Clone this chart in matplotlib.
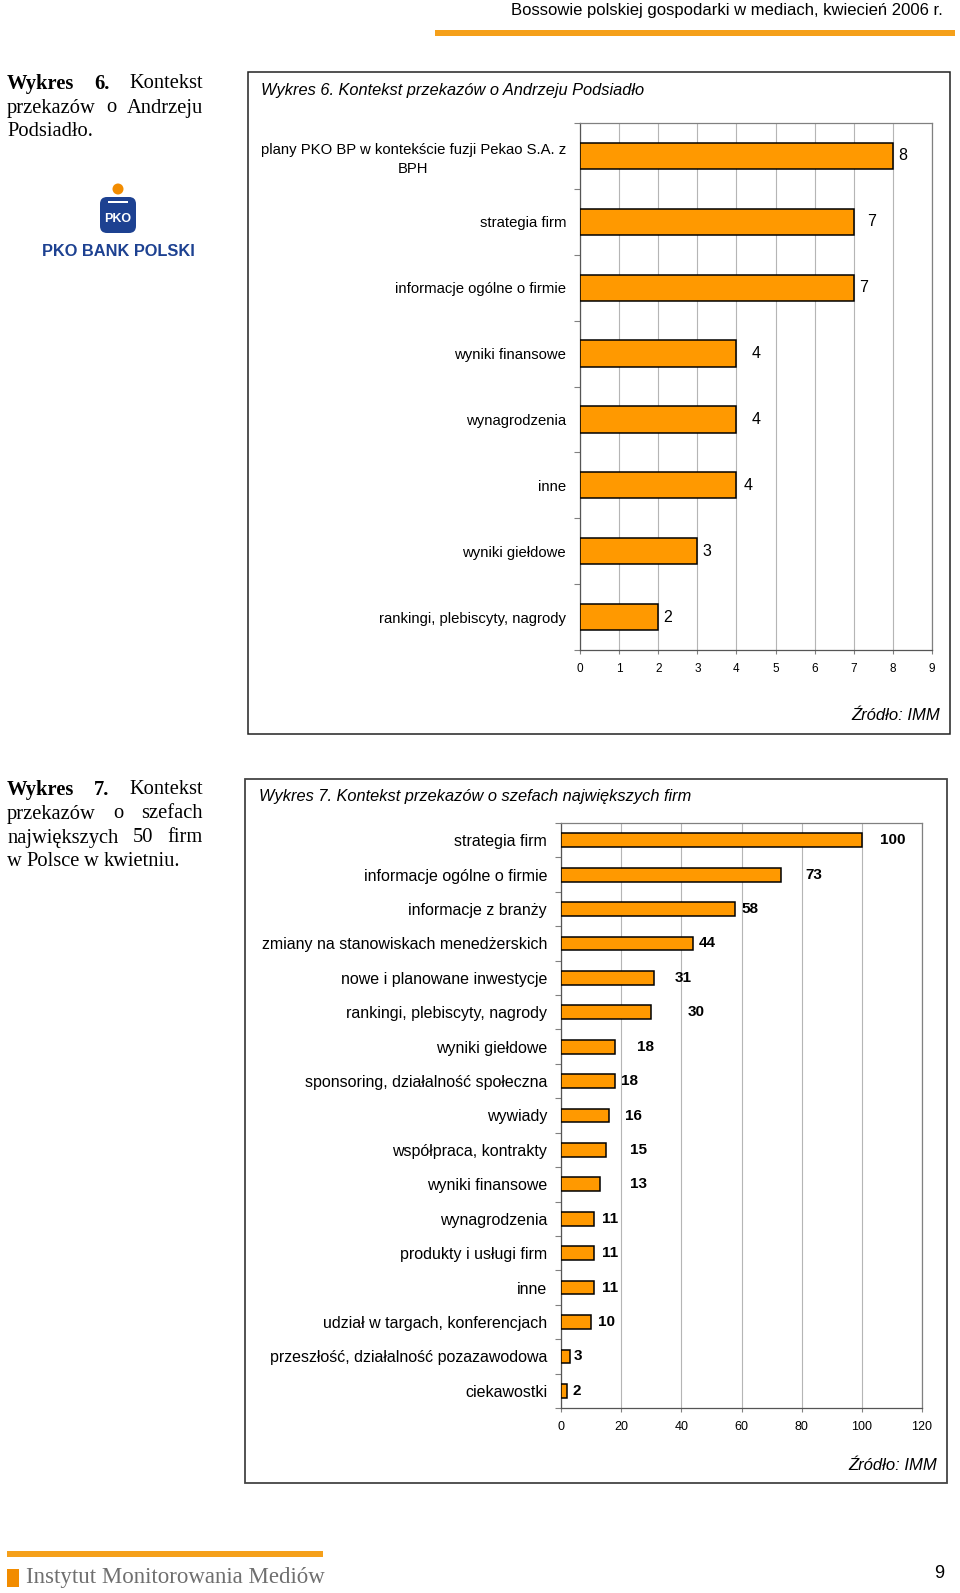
import matplotlib
matplotlib.use("Agg")
import matplotlib.pyplot as plt
import numpy as np
from matplotlib.patches import Rectangle, FancyBboxPatch, Circle

# ---------------- data ----------------
cats6 = ["plany PKO BP w kontekście fuzji Pekao S.A. z\nBPH", "strategia firm",
         "informacje ogólne o firmie", "wyniki finansowe", "wynagrodzenia", "inne",
         "wyniki giełdowe", "rankingi, plebiscyty, nagrody"]
vals6 = [8, 7, 7, 4, 4, 4, 3, 2]
ticks6 = [0, 1, 2, 3, 4, 5, 6, 7, 8, 9]

cats7 = ["strategia firm", "informacje ogólne o firmie", "informacje z branży",
         "zmiany na stanowiskach menedżerskich", "nowe i planowane inwestycje",
         "rankingi, plebiscyty, nagrody", "wyniki giełdowe", "sponsoring, działalność społeczna",
         "wywiady", "współpraca, kontrakty", "wyniki finansowe", "wynagrodzenia",
         "produkty i usługi firm", "inne", "udział w targach, konferencjach",
         "przeszłość, działalność pozazawodowa", "ciekawostki"]
vals7 = [100, 73, 58, 44, 31, 30, 18, 18, 16, 15, 13, 11, 11, 11, 10, 3, 2]
ticks7 = [0, 20, 40, 60, 80, 100, 120]

title6 = "Wykres 6. Kontekst przekazów o Andrzeju Podsiadło"
title7 = "Wykres 7. Kontekst przekazów o szefach największych firm"
source = "Źródło: IMM"
header = "Bossowie polskiej gospodarki w mediach, kwiecień 2006 r."
footer = "Instytut Monitorowania Mediów"
page_no = "9"

# label offsets in pixels (style only)
dx6 = [5, 13, 5, 15, 15, 7, 5, 5]
dx7 = [18, 25, 6, 5, 20, 36, 22, 6, 16, 24, 30, 8, 8, 8, 7, 4, 5]

ORANGE = "#FF9900"
BAR_ORANGE = "#F5A01A"
SANS = "Liberation Sans"
SERIF = "Liberation Serif"

W, H = 960, 1593
fig = plt.figure(figsize=(W / 100, H / 100), dpi=100)
fig.patch.set_facecolor("white")

# overlay axes in pixel coordinates
ov = fig.add_axes([0, 0, 1, 1])
ov.set_xlim(0, W)
ov.set_ylim(H, 0)
ov.axis("off")

renderer = fig.canvas.get_renderer()

# header
ov.text(943, 11, header, ha="right", va="center", fontsize=12, family=SANS)
ov.add_patch(Rectangle((435, 30), 520, 6, color=BAR_ORANGE, lw=0))

# footer
ov.add_patch(Rectangle((7, 1551), 316, 6, color=BAR_ORANGE, lw=0))
ov.add_patch(Rectangle((7, 1569), 12, 18, color="#F28C00", lw=0))
ov.text(26, 1578, footer, ha="left", va="center", fontsize=16.5, family=SERIF, color="#6f6f6f")
ov.text(944, 1574, page_no, ha="right", va="center", fontsize=13, family=SANS)


def put_line(words, y, x0=7, x1=203, justify=True):
    texts = []
    for w, bold in words:
        t = ov.text(0, y, w, fontsize=14.8, family=SERIF,
                    weight="bold" if bold else "normal", va="center", ha="left")
        texts.append(t)
    widths = [t.get_window_extent(renderer).width for t in texts]
    if justify and len(texts) > 1:
        gap = (x1 - x0 - sum(widths)) / (len(texts) - 1)
    else:
        gap = 4.5
    x = x0
    for t, w in zip(texts, widths):
        t.set_x(x)
        x += w + gap


put_line([("Wykres", True), ("6.", True), ("Kontekst", False)], 84)
put_line([("przekazów", False), ("o", False), ("Andrzeju", False)], 108)
put_line([("Podsiadło.", False)], 132, justify=False)

put_line([("Wykres", True), ("7.", True), ("Kontekst", False)], 790)
put_line([("przekazów", False), ("o", False), ("szefach", False)], 814)
put_line([("największych", False), ("50", False), ("firm", False)], 838)
put_line([("w", False), ("Polsce", False), ("w", False), ("kwietniu.", False)], 862, justify=False)

# logo
BLUE = "#1d4191"
ov.add_patch(Circle((118, 189), 5.5, color="#F28C00", lw=0))
ov.add_patch(FancyBboxPatch((100, 197), 36, 36, boxstyle="round,pad=0,rounding_size=7",
                            color=BLUE, lw=0))
ov.add_patch(Rectangle((108, 201), 20, 2.4, color="white", lw=0))
ov.text(118, 219, "PKO", ha="center", va="center", fontsize=9, weight="bold",
        family=SANS, color="white")
ov.text(118, 251, "PKO BANK POLSKI", ha="center", va="center", fontsize=11.8,
        weight="bold", family=SANS, color=BLUE)

# chart frames
ov.add_patch(Rectangle((248, 72), 702, 662, fill=False, ec="#222222", lw=1.1))
ov.add_patch(Rectangle((245, 779), 702, 704, fill=False, ec="#444444", lw=1.3))
ov.text(261, 90, title6, ha="left", va="center", fontsize=11.8, family=SANS, style="italic")
ov.text(259, 797, title7, ha="left", va="center", fontsize=11.8, family=SANS, style="italic")
ov.text(940, 716, source, ha="right", va="center", fontsize=12, family=SANS, style="italic")
ov.text(937, 1465, source, ha="right", va="center", fontsize=12, family=SANS, style="italic")


def px_axes(x0, y0, x1, y1):
    return fig.add_axes([x0 / W, 1 - y1 / H, (x1 - x0) / W, (y1 - y0) / H])


def bar_chart(ax, cats, vals, ticks, dx, bold, tick_fs, val_fs, cat_fs):
    y = np.arange(len(cats))
    ax.barh(y, vals, height=0.4, color=ORANGE, edgecolor="black", linewidth=1.1, zorder=3)
    ax.set_xlim(ticks[0], ticks[-1])
    ax.set_ylim(len(cats) - 0.5, -0.5)
    ax.set_xticks(ticks)
    ax.set_xticklabels([str(t) for t in ticks], fontsize=tick_fs, family=SANS)
    ax.xaxis.grid(True, color="#b5b5b5", linewidth=0.8)
    ax.set_axisbelow(True)
    ax.set_yticks(y)
    ax.set_yticklabels(cats, fontsize=cat_fs, family=SANS, linespacing=1.4)
    for lab in ax.get_yticklabels():
        lab.set_multialignment("center")
    ax.tick_params(axis="y", which="major", length=0, pad=10)
    ax.set_yticks(np.arange(len(cats) + 1) - 0.5, minor=True)
    ax.tick_params(axis="y", which="minor", length=4, color="#808080", width=0.8)
    ax.tick_params(axis="x", length=3, color="#808080", width=0.8, pad=6)
    for s in ax.spines.values():
        s.set_color("#808080")
        s.set_linewidth(0.9)
    ax.spines["left"].set_color("#555555")
    ax.spines["bottom"].set_color("#555555")
    for i, v in enumerate(vals):
        ax.annotate(str(v), (v, i), xytext=(dx[i], 0), textcoords="offset pixels",
                    ha="left", va="center", fontsize=val_fs, family=SANS,
                    weight="bold" if bold else "normal", zorder=4)


ax6 = px_axes(580, 123, 932, 650)
bar_chart(ax6, cats6, vals6, ticks6, dx6, False, 8.5, 11.5, 10.7)

ax7 = px_axes(561, 823, 922, 1408)
bar_chart(ax7, cats7, vals7, ticks7, dx7, True, 9, 11, 11.5)

fig.savefig("out.png", dpi=100, facecolor="white")
